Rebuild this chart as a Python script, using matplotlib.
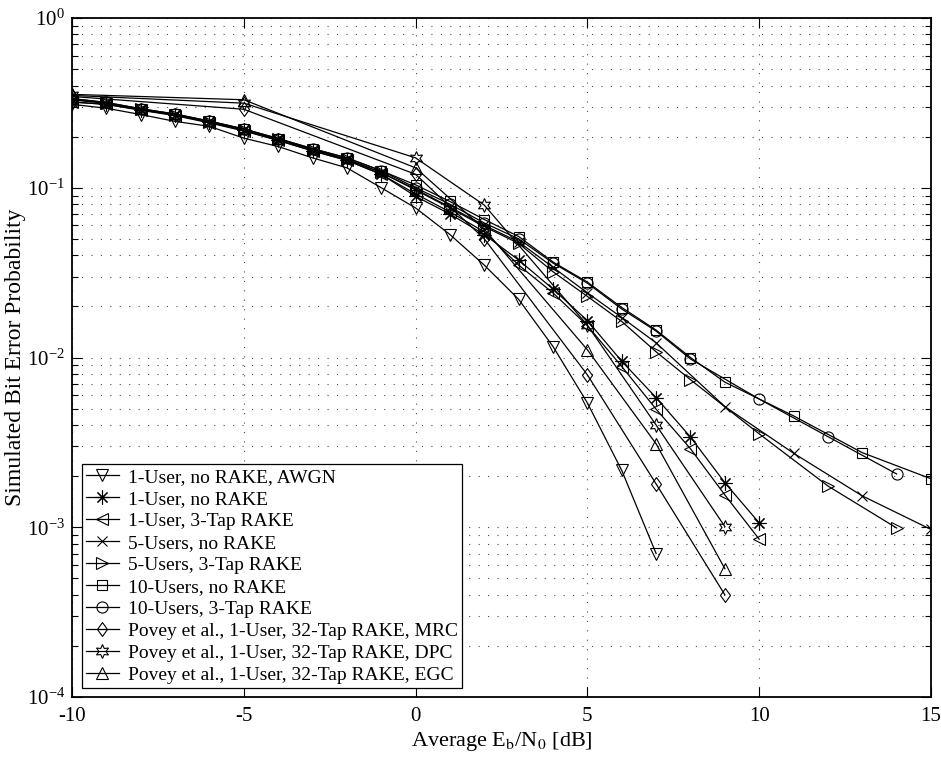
import numpy as np
import matplotlib
matplotlib.use("Agg")
import matplotlib.pyplot as plt
from matplotlib.path import Path
from matplotlib.ticker import LogLocator, NullFormatter, MultipleLocator

plt.rcParams['font.family'] = ['Liberation Serif', 'DejaVu Serif']
plt.rcParams['mathtext.fontset'] = 'stix'
plt.rcParams['axes.unicode_minus'] = False

# simulated BER curves (x in dB, values read per point)
x_awgn = np.arange(-10, 8)
ber_awgn = [0.31, 0.294, 0.27, 0.246, 0.23, 0.196, 0.175, 0.15, 0.131, 0.10,
            0.076, 0.053, 0.035, 0.022, 0.0116, 0.0054, 0.00216, 0.0007]

x_1u = np.arange(-10, 11)
ber_1u_norake = [0.32, 0.31, 0.288, 0.268, 0.243, 0.218, 0.19, 0.165, 0.145, 0.12,
                 0.089, 0.07, 0.053, 0.0375, 0.0253, 0.0165, 0.0095, 0.0058, 0.0034,
                 0.00183, 0.00106]
ber_1u_rake = [0.32, 0.31, 0.286, 0.266, 0.241, 0.216, 0.19, 0.165, 0.145, 0.12,
               0.092, 0.072, 0.055, 0.035, 0.024, 0.0154, 0.00885, 0.00496, 0.0029,
               0.00155, 0.00085]

x_5u_norake = list(range(-10, 8)) + [9, 11, 13, 15]
ber_5u_norake = [0.33, 0.315, 0.29, 0.27, 0.245, 0.22, 0.193, 0.168, 0.147, 0.123,
                 0.098, 0.077, 0.06, 0.048, 0.034, 0.024, 0.0172, 0.0122,
                 0.00514, 0.00273, 0.00153, 0.00097]
x_5u_rake = list(range(-10, 9)) + [10, 12, 14]
ber_5u_rake = [0.33, 0.315, 0.29, 0.27, 0.245, 0.22, 0.193, 0.168, 0.147, 0.123,
               0.097, 0.076, 0.059, 0.047, 0.032, 0.0229, 0.0163, 0.0108, 0.0074,
               0.00355, 0.00175, 0.00099]

x_10u_norake = list(range(-10, 10)) + [11, 13, 15]
ber_10u_norake = [0.335, 0.318, 0.292, 0.272, 0.247, 0.222, 0.195, 0.17, 0.15, 0.126,
                  0.104, 0.083, 0.065, 0.0516, 0.0365, 0.0278, 0.0197, 0.0145, 0.0100,
                  0.00716, 0.00453, 0.00275, 0.00193]
x_10u_rake = list(range(-10, 9)) + [10, 12, 14]
ber_10u_rake = [0.335, 0.318, 0.292, 0.272, 0.247, 0.222, 0.195, 0.17, 0.15, 0.126,
                0.10, 0.08, 0.062, 0.05, 0.036, 0.0274, 0.0193, 0.0143, 0.0098,
                0.00569, 0.00342, 0.00206]

# published 32-tap RAKE results (Povey et al.)
x_povey = [-10, -5, 0, 2, 5, 7, 9]
ber_mrc = [0.345, 0.29, 0.12, 0.05, 0.0079, 0.0018, 0.0004]
ber_dpc = [0.35, 0.315, 0.15, 0.079, 0.0155, 0.0040, 0.00101]
ber_egc = [0.355, 0.33, 0.131, 0.057, 0.0111, 0.0031, 0.00057]

# matlab-like marker shapes
asterisk = (8, 2, 0)
hexagram = (6, 1, 0)
diamond = Path([(0, 1), (0.72, 0), (0, -1), (-0.72, 0), (0, 1)],
               [Path.MOVETO, Path.LINETO, Path.LINETO, Path.LINETO, Path.CLOSEPOLY])

# (x, y, marker, size, label)
curves = [
    (x_awgn, ber_awgn, 'v', 9, "1-User, no RAKE, AWGN"),
    (x_1u, ber_1u_norake, asterisk, 10, "1-User, no RAKE"),
    (x_1u, ber_1u_rake, '<', 9, "1-User, 3-Tap RAKE"),
    (x_5u_norake, ber_5u_norake, 'x', 7, "5-Users, no RAKE"),
    (x_5u_rake, ber_5u_rake, '>', 9, "5-Users, 3-Tap RAKE"),
    (x_10u_norake, ber_10u_norake, 's', 7.5, "10-Users, no RAKE"),
    (x_10u_rake, ber_10u_rake, 'o', 8, "10-Users, 3-Tap RAKE"),
    (x_povey, ber_mrc, diamond, 10, "Povey et al., 1-User, 32-Tap RAKE, MRC"),
    (x_povey, ber_dpc, hexagram, 10, "Povey et al., 1-User, 32-Tap RAKE, DPC"),
    (x_povey, ber_egc, '^', 9, "Povey et al., 1-User, 32-Tap RAKE, EGC"),
]

fig = plt.figure(figsize=(9.41, 7.60), dpi=100)
ax = fig.add_axes([72/941, 1-697/760, 859/941, 679/760])

for xs, ys, mk, ms, lab in curves:
    ax.semilogy(xs, ys, color='k', lw=0.9, marker=mk, ms=ms,
                mfc='none', mec='k', mew=0.8, label=lab)

ax.set_xlim(-10, 15)
ax.set_ylim(1e-4, 1)
ax.xaxis.set_major_locator(MultipleLocator(5))
ax.yaxis.set_major_locator(LogLocator(base=10, numticks=10))
ax.yaxis.set_minor_locator(LogLocator(base=10, subs=np.arange(2, 10), numticks=20))
ax.yaxis.set_minor_formatter(NullFormatter())

dots = (0, (1, 7.5))
ax.grid(True, which='major', axis='both', color='0.3', ls=dots, lw=0.8)
ax.grid(True, which='minor', axis='y', color='0.3', ls=dots, lw=0.8)

ax.tick_params(which='both', direction='in', top=True, right=True,
               labelsize=15, width=0.8)
ax.tick_params(axis='x', pad=7)
ax.tick_params(axis='y', pad=5)
ax.tick_params(which='major', length=7)
ax.tick_params(which='minor', length=4)
for s in ax.spines.values():
    s.set_linewidth(1.3)

ax.set_xlabel("Average E$_\\mathrm{b}$/N$_0$ [dB]", fontsize=16)
ax.set_ylabel("Simulated Bit Error Probability", fontsize=17)
ax.xaxis.set_label_coords(0.5, -0.048)
ax.yaxis.set_label_coords(-0.053, 0.5)

leg = ax.legend(loc='lower left', bbox_to_anchor=(0.0116, 0.0137), borderaxespad=0,
                fontsize=14, frameon=True, fancybox=False, framealpha=1,
                edgecolor='k', handlelength=1.7, labelspacing=0.225,
                borderpad=0.2, handletextpad=0.45)
leg.get_frame().set_linewidth(0.9)

fig.savefig("out.png", dpi=100)
